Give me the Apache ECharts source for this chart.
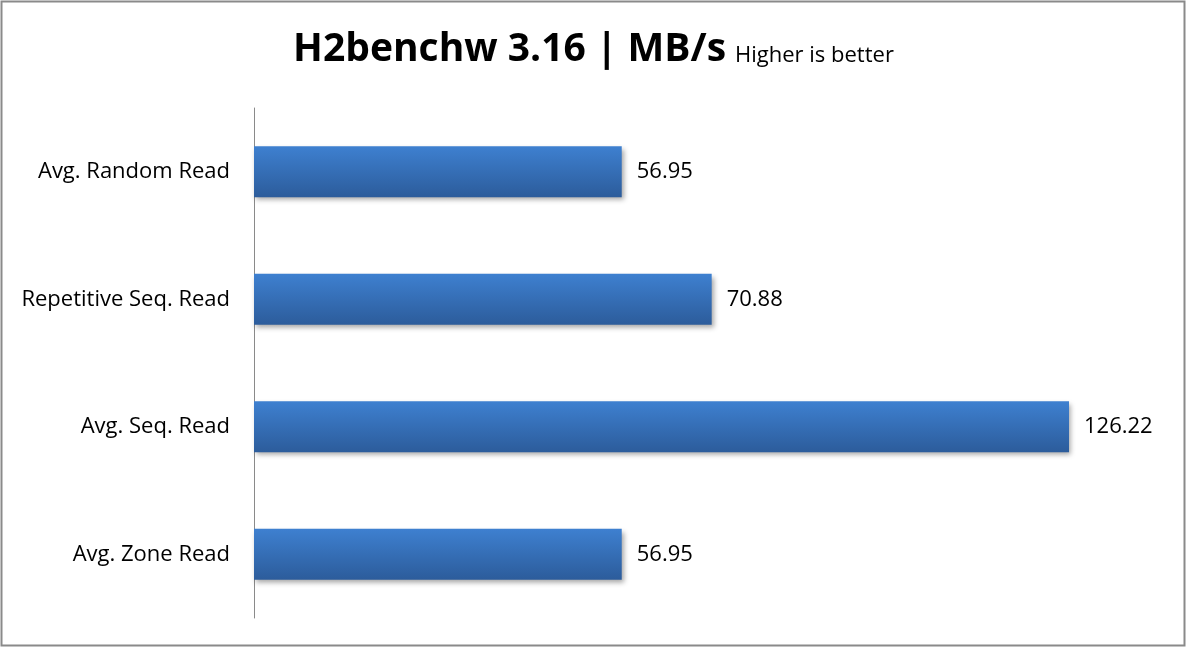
<!DOCTYPE html>
<html><head><meta charset="utf-8">
<script src="https://cdn.jsdelivr.net/npm/echarts@6/dist/echarts.min.js"></script>
<style>html,body{margin:0;padding:0;background:#fff}#c{width:1187px;height:648px}</style>
</head><body><div id="c"></div>
<script>
const categories = ["Avg. Random Read", "Repetitive Seq. Read", "Avg. Seq. Read", "Avg. Zone Read"];
const values = [56.95, 70.88, 126.22, 56.95];
const titleMain = "H2benchw 3.16 | MB/s";
const titleSub = "Higher is better";

const chart = echarts.init(document.getElementById('c'));
chart.setOption({
  backgroundColor: '#fff',
  animation: false,
  title: {
    text: '{a|' + titleMain + '} {b|' + titleSub + '}',
    left: 'center', top: 25,
    textStyle: { rich: {
      a: { fontFamily: 'Open Sans', fontWeight: 'bold', fontSize: 39, color: '#000' },
      b: { fontFamily: 'Open Sans', fontWeight: 'normal', fontSize: 22, color: '#000', padding: [13, 0, 0, 4] }
    } }
  },
  graphic: [{
    type: 'rect', shape: { x: 1.5, y: 1.5, width: 1183, height: 644 },
    style: { fill: 'none', stroke: '#8a8a8a', lineWidth: 2 }, silent: true
  }],
  grid: { left: 254, right: 29, top: 108, bottom: 30, containLabel: false },
  xAxis: { type: 'value', min: 0, max: 140, show: false },
  yAxis: {
    type: 'category', data: categories, inverse: true,
    axisLine: { show: true, lineStyle: { color: '#8a8a8a', width: 1 } },
    axisTick: { show: false },
    axisLabel: { fontFamily: 'Open Sans', fontSize: 22, color: '#000', margin: 24 }
  },
  series: [{
    type: 'bar', data: values, barWidth: 51,
    itemStyle: {
      color: new echarts.graphic.LinearGradient(0, 0, 0, 1, [
        { offset: 0, color: '#3e80d0' },
        { offset: 1, color: '#2c5c9b' }
      ]),
      shadowColor: 'rgba(0,0,0,0.35)', shadowBlur: 5, shadowOffsetX: 2, shadowOffsetY: 3
    },
    label: { show: true, position: 'right', distance: 15, fontFamily: 'Open Sans', fontSize: 22, color: '#000',
      formatter: p => p.value.toFixed(2) }
  }]
});
</script></body></html>
